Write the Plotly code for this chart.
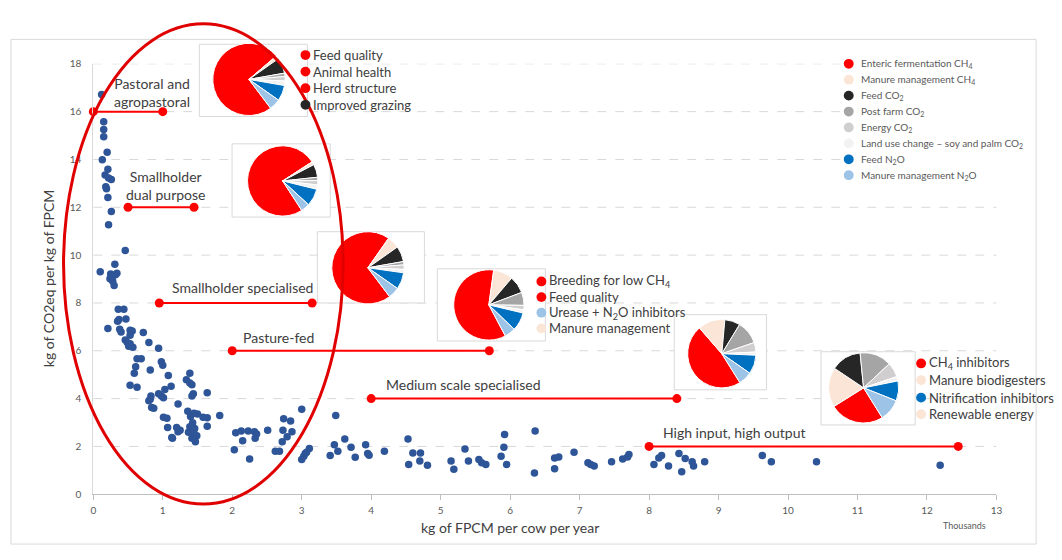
import plotly.graph_objects as go

# the page body has an 8px margin, so the figure is sized to fit inside the window
OFF = 8
W, H = 1062 - 2 * OFF, 560 - 2 * OFF

# ---------------- data ----------------
milk_k = [0.12, 0.15, 0.15, 0.15, 0.20, 0.13, 0.21, 0.17, 0.22, 0.26, 0.18, 0.19, 0.21, 0.26, 0.22, 0.46, 0.31, 0.10,
          0.25, 0.32, 0.27, 0.34, 0.28, 0.30, 0.24,
          0.21, 0.36, 0.44, 0.37, 0.35, 0.47, 0.38, 0.40, 0.53, 0.56, 0.53, 0.46, 0.49, 0.53, 0.57, 0.51, 0.72, 0.80, 0.94,
          0.63, 0.69, 0.61, 0.59, 0.82, 0.98, 1.00, 1.08, 0.53, 0.63, 1.12, 1.03, 0.83, 0.82, 0.80, 0.84, 0.87, 0.94, 0.98,
          1.01, 1.22, 1.01, 1.06, 1.07, 1.20, 1.22, 1.14, 1.39, 1.34, 1.39, 1.42, 1.44, 1.42, 1.64, 1.36, 1.45, 1.50, 1.40,
          1.58, 1.64, 1.82, 1.43, 1.39, 1.46, 1.37, 1.45, 1.49, 1.42, 1.47, 1.64, 1.25, 1.13,
          2.05, 2.13, 2.23, 2.32, 2.35, 2.33, 2.15, 2.51, 2.74, 2.84, 2.73, 2.86, 2.79, 3.00, 2.72, 2.62, 2.68, 2.03, 3.11,
          3.05, 2.25,
          3.03, 3.00, 3.07, 3.49, 3.41, 3.47, 3.52, 3.62, 3.71, 3.77, 3.92, 3.95, 3.97, 4.19, 4.53, 4.60, 4.71, 4.54, 4.70,
          4.81, 5.15, 5.19, 5.35, 5.40, 5.55, 5.59, 5.65, 5.92, 5.91, 5.87, 5.95, 6.36, 6.35, 6.64, 6.70, 6.64, 6.92, 7.12,
          7.16, 7.21, 7.46, 7.62, 7.69, 7.71, 8.07, 8.14, 8.18, 8.28, 8.43, 8.52, 8.47, 8.62, 8.64, 8.80,
          9.63, 9.76, 10.41, 12.19]
ghg_int = [16.72, 15.58, 15.25, 14.95, 14.30, 13.99, 13.59, 13.35, 13.22, 13.16, 12.86, 12.78, 12.41, 11.82, 11.27, 10.19, 9.62, 9.30,
           9.21, 9.18, 9.07, 9.24, 8.91, 8.73, 9.01,
           6.93, 7.74, 7.74, 7.31, 7.24, 7.33, 6.90, 6.79, 6.86, 6.83, 6.65, 6.45, 6.35, 6.29, 6.15, 6.19, 6.76, 6.35, 6.11,
           5.67, 5.67, 5.33, 5.06, 5.20, 5.54, 5.40, 4.97, 4.56, 4.48, 4.52, 4.38, 4.11, 3.97, 3.91, 3.63, 3.60, 4.20, 4.11,
           4.04, 3.77, 3.22, 3.18, 2.79, 2.79, 2.61, 2.34, 5.06, 4.79, 4.65, 4.58, 4.20, 4.11, 4.24, 3.47, 3.39, 3.36, 3.25,
           3.22, 3.20, 3.29, 2.99, 2.82, 2.75, 2.59, 2.54, 2.45, 2.34, 2.20, 2.84, 2.68, 2.37,
           2.57, 2.65, 2.65, 2.61, 2.52, 2.34, 2.24, 2.68, 3.16, 3.06, 2.68, 2.61, 2.41, 3.56, 2.20, 1.80, 1.80, 1.86, 1.91,
           1.70, 1.47,
           1.59, 1.45, 1.76, 3.29, 1.62, 2.07, 1.80, 2.31, 1.97, 1.55, 2.07, 1.70, 1.63, 1.80, 2.31, 1.73, 1.73, 1.25, 1.39,
           1.21, 1.39, 1.05, 1.89, 1.39, 1.45, 1.32, 1.25, 2.50, 1.97, 1.59, 1.25, 2.65, 0.89, 1.52, 1.56, 1.07, 1.76, 1.32,
           1.25, 1.18, 1.36, 1.48, 1.56, 1.66, 1.25, 1.52, 1.62, 1.18, 1.70, 1.50, 0.94, 1.36, 1.18, 1.36,
           1.62, 1.36, 1.36, 1.21]

system_names = ["Pastoral and<br>agropastoral", "Smallholder<br>dual purpose", "Smallholder specialised",
                "Pasture-fed", "Medium scale specialised", "High input, high output"]
system_level = [16, 12, 8, 6, 4, 2]
system_from = [0.0, 0.5, 0.95, 2.0, 4.0, 8.0]
system_to = [1.0, 1.45, 3.15, 5.7, 8.4, 12.45]

x_ticks = list(range(0, 14))
y_ticks = list(range(0, 19, 2))

emission_sources = ["Enteric fermentation CH<sub>4</sub>", "Manure management CH<sub>4</sub>", "Feed CO<sub>2</sub>",
                    "Post farm CO<sub>2</sub>", "Energy CO<sub>2</sub>",
                    "Land use change \u2013 soy and palm CO<sub>2</sub>", "Feed N<sub>2</sub>O",
                    "Manure management N<sub>2</sub>O"]
pie_pastoral = [74, 1.5, 7, 1.5, 2, 2, 7, 5]
pie_dual = [75, 1.5, 6, 1.5, 2, 2, 8, 4]
pie_small_spec = [70, 5.5, 7, 1.5, 2, 1.5, 7.5, 5]
pie_pasture = [60, 9, 8, 6, 2, 1.5, 8.5, 5]
pie_medium = [47.5, 12.8, 7.3, 11, 4.5, 1.5, 9, 6.4]
pie_high = [25, 18.3, 14, 14.6, 6.8, 2, 9.2, 10.1]

opts_pastoral = ["Feed quality", "Animal health", "Herd structure", "Improved grazing"]
opts_pasture = ["Breeding for low CH<sub>4</sub>", "Feed quality", "Urease + N<sub>2</sub>O inhibitors",
                "Manure management"]
opts_high = ["CH<sub>4</sub> inhibitors", "Manure biodigesters", "Nitrification inhibitors", "Renewable energy"]

# ---------------- styles ----------------
src_colors = ["#ff0000", "#fbe5d6", "#262626", "#a5a5a5", "#d0cece", "#f2f2f2", "#0070c0", "#9dc3e6"]
RED = "#ff0000"
TXT = "#404040"
GRAY = "#595959"
FONT = "Lato"

PX_L, PX_R, PX_T, PX_B = 91, 1002, 58, 499  # plot area in window pixels


def px(xp):
    return (xp - OFF) / W


def py(yp):
    return 1 - (yp - OFF) / H


fig = go.Figure()

fig.add_trace(go.Scatter(x=milk_k, y=ghg_int, mode="markers",
                         marker=dict(color="#2e5597", size=7.5), showlegend=False,
                         hovertemplate="%{x:.2f}k kg FPCM<br>%{y:.2f} kg CO2eq<extra></extra>"))

for name, lv, a, b in zip(system_names, system_level, system_from, system_to):
    fig.add_trace(go.Scatter(x=[a, b], y=[lv, lv], mode="lines+markers", cliponaxis=False,
                             line=dict(color=RED, width=2), marker=dict(color=RED, size=9),
                             name=name.replace("<br>", " "), showlegend=False))

# pies: (values, rotation, centre px, radius px)
pie_specs = [
    (pie_pastoral, 143, (248, 74), 37),
    (pie_dual, 147, (282, 178), 36),
    (pie_small_spec, 143, (368, 267), 37),
    (pie_pasture, 152, (490, 305), 36),
    (pie_medium, 148, (725, 355), 35),
    (pie_high, 148, (868, 390), 36),
]
for vals, rot, (cx, cy), r in pie_specs:
    fig.add_trace(go.Pie(values=vals, labels=emission_sources, sort=False, direction="clockwise",
                         rotation=rot, textinfo="none", showlegend=False, hoverinfo="label+percent",
                         marker=dict(colors=src_colors, line=dict(color="white", width=1)),
                         domain=dict(x=[px(cx - r), px(cx + r)], y=[py(cy + r), py(cy - r)])))

shapes = []
# outer frame
shapes.append(dict(type="rect", xref="paper", yref="paper", x0=px(8), x1=px(1042), y0=py(550), y1=py(33),
                   line=dict(color="#d9d9d9", width=1), layer="below"))
# dashed gridlines
for v in y_ticks[1:]:
    shapes.append(dict(type="line", xref="paper", yref="y", x0=px(PX_L), x1=px(PX_R), y0=v, y1=v,
                       line=dict(color="#d9d9d9", width=1, dash="dash"), layer="below"))
# legend area (white, covers gridlines)
shapes.append(dict(type="rect", xref="paper", yref="paper", x0=px(847), x1=px(1040), y0=py(186), y1=py(36),
                   fillcolor="white", line=dict(width=0), layer="below"))
# pie boxes
for (x0, y0, x1, y1) in [(198, 38, 307, 112), (231, 140, 330, 215), (317, 230, 425, 303),
                         (438, 268, 547, 342), (677, 315, 770, 392), (825, 353, 920, 428)]:
    shapes.append(dict(type="rect", xref="paper", yref="paper", x0=px(x0), x1=px(x1), y0=py(y1), y1=py(y0),
                       fillcolor="white", line=dict(color="#d9d9d9", width=1), layer="below"))
# red ellipse
shapes.append(dict(type="circle", xref="paper", yref="paper", x0=px(202 - 141), x1=px(202 + 141),
                   y0=py(263 + 246), y1=py(263 - 246), line=dict(color="#e00000", width=3), layer="above"))


def dot(cx, cy, d, color):
    return dict(type="circle", xref="paper", yref="paper", x0=px(cx - d / 2), x1=px(cx + d / 2),
                y0=py(cy + d / 2), y1=py(cy - d / 2), fillcolor=color, line=dict(width=0), layer="above")


annotations = []
# legend
for i, (lab, col) in enumerate(zip(emission_sources, src_colors)):
    yy = 58 + 16.3 * i
    shapes.append(dot(853, yy, 10, col))
    annotations.append(dict(x=px(863), y=py(yy), xref="paper", yref="paper", text=lab, showarrow=False,
                            xanchor="left", yanchor="middle", font=dict(family=FONT, size=10, color=GRAY)))

# mitigation option lists
opt_sets = [
    (opts_pastoral, [RED, RED, RED, "#262626"], 305, [49, 66, 83, 100]),
    (opts_pasture, [RED, RED, "#9dc3e6", "#fbe5d6"], 543, [281, 297, 313, 329]),
    (opts_high, [RED, "#fbe5d6", "#0070c0", "#fbe5d6"], 926, [365, 382, 400, 417]),
]
for labs, cols, dx, ys in opt_sets:
    for lab, col, yy in zip(labs, cols, ys):
        shapes.append(dot(dx, yy, 10, col))
        annotations.append(dict(x=px(dx + 6), y=py(yy), xref="paper", yref="paper", text=lab, showarrow=False,
                                xanchor="left", yanchor="middle", font=dict(family=FONT, size=13, color=TXT)))

# system labels
label_pos = [(0.84, 16.82), (1.04, 12.92), (2.15, 8.65), (2.66, 6.57), (5.33, 4.61), (9.23, 2.57)]
for name, (lx, ly) in zip(system_names, label_pos):
    annotations.append(dict(x=lx, y=ly, xref="x", yref="y", text=name, showarrow=False, align="center",
                            xanchor="center", yanchor="middle", font=dict(family=FONT, size=14, color=TXT)))

# axis titles
annotations.append(dict(x=px(511), y=py(533), xref="paper", yref="paper", text="kg of FPCM per cow per year",
                        showarrow=False, xanchor="center", yanchor="middle",
                        font=dict(family=FONT, size=14, color=TXT)))
annotations.append(dict(x=px(46), y=py(278), xref="paper", yref="paper", text="kg of CO2eq per kg of FPCM",
                        showarrow=False, textangle=-90, xanchor="center", yanchor="middle",
                        font=dict(family=FONT, size=14, color=TXT)))
annotations.append(dict(x=px(993), y=py(531), xref="paper", yref="paper", text="Thousands", showarrow=False,
                        xanchor="right", yanchor="middle", font=dict(family=FONT, size=9, color=GRAY)))

fig.update_layout(
    width=W, height=H, margin=dict(l=0, r=0, t=0, b=0),
    paper_bgcolor="white", plot_bgcolor="white",
    font=dict(family=FONT, color=GRAY),
    xaxis=dict(domain=[px(PX_L), px(PX_R)], range=[0, 13], tickvals=x_ticks, showgrid=False, zeroline=False,
               showline=True, linecolor="#bfbfbf", ticks="outside", ticklen=5, tickcolor="#bfbfbf",
               ticklabelstandoff=2, tickfont=dict(family=FONT, size=10, color=GRAY), fixedrange=True),
    yaxis=dict(domain=[py(PX_B), py(PX_T)], range=[0, 18], tickvals=y_ticks, showgrid=False,
               zeroline=False, showline=True, linecolor="#d9d9d9", ticks="", ticklabelstandoff=9,
               tickfont=dict(family=FONT, size=10, color=GRAY), fixedrange=True),
    shapes=shapes, annotations=annotations, showlegend=False,
)

fig.write_html("out.html")
